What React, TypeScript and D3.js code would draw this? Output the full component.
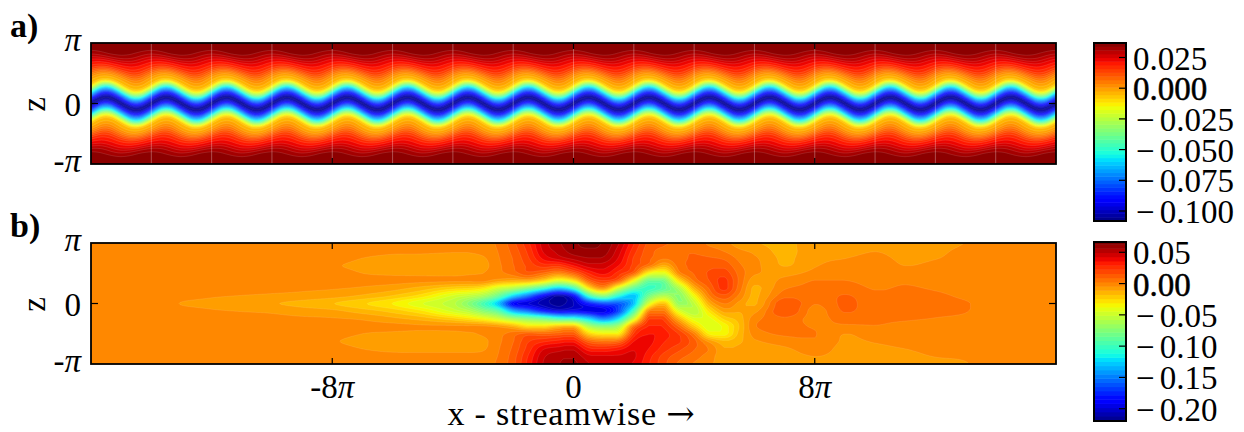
import { useMemo } from 'react';
import * as d3 from 'd3';

const PI = Math.PI;

// panel a: one streamwise period (x 1e-3)
const aProfile = [-106, -95, -75, -53, -26, -8, -3, 1.5, 8, 15, 20, 24, 29, 33, 35, 36, 36.5, 37, 37];
const aCrest = [0, 0.15, 0.27, 0.31, 0.27, 0.15, 0, -0.15, -0.27, -0.31, -0.27, -0.15];
const aCrestFar = [0.13, 0.11, 0.065, 0, -0.065, -0.11, -0.13, -0.11, -0.065, 0, 0.065, 0.11];
const aSeams = d3.range(-14, 15, 2);
const aRange = [-108, 37];

// panel b: stations along x in units of pi, rows z = pi..-pi in steps of pi/8 (x 1e-3)
const bStations = [
  -16, -15, -14, -13, -12, -11, -10, -9, -8, -7, -6, -5,
  -4, -3.5, -3, -2.5, -2, -1.5, -1, -0.5, 0, 0.5, 1, 1.5, 2, 2.5, 3, 3.5, 4, 4.5, 5, 5.5, 6,
  7, 8, 9, 10, 11, 12, 13, 14, 15, 16,
];
const bColumns = [
  [-1, -1, -1, -1, -1, -1, -1, -1, -1, -1, -1, -1, -1, -1, -1, -1, -1],
  [-1, -1, -1, -1, -1, -1, -1, -1, -1, -1, -1, -1, -1, -1, -1, -1, -1],
  [-1, -1, -1, -1, -1, -1, -1, -1, -1, -1, -1, -1, -1, -1, -1, -1, -1],
  [-1, -1, -1, -1, -1, -1, -1, -2, -4.2, -2, -1, -1, -1, -1, -1, -1, -1],
  [-1, -1, -1, -1, -1, -1, -1.5, -3.4, -5.5, -3.4, -1.5, -1, -1, -1, -1, -1, -1],
  [-1, -1, -1, -1, -1, -1, -2, -4.2, -7.5, -4.2, -2, -1, -1, -1, -1, -1, -1],
  [-1, -1, -1, -1, -1, -1, -2.5, -5, -10, -5, -2.5, -1, -1, -1, -1, -1, -1],
  [-1, -1, -1, -2, -1, -1, -3, -6, -13, -7, -3, -1, -1, -2, -1, -1, -1],
  [-1, -1, -2, -3.5, -2, -1, -3.5, -8, -17, -9, -3.5, -1, -2, -3.5, -2, -1, -1],
  [-1, -1.5, -4, -5, -4, -2, -5, -12, -23, -14, -5, -2, -4, -5.5, -4, -1.5, -1],
  [-1, -2.5, -5.5, -6.5, -5, -2, -8, -18, -31, -20, -9, -2, -5, -6.5, -5.5, -2, -1],
  [-1, -2.5, -6, -7.5, -5.5, -2.5, -14, -28, -44, -30, -14, -3, -6, -7.5, -6, -2, -1],
  [-1, -3, -7, -8, -6, -3, -22, -45, -55, -46, -22, -3, -6, -8, -6, -2, -1],
  [-1, -3, -7, -8, -5, -3, -24, -52, -72, -55, -28, -3, -5, -8, -6, -2, -1],
  [0, -1, -5, -6.5, -4, -2, -30, -62, -95, -72, -36, -3, -3, -6, -5, -1, 0],
  [4, 3, 2, 1, 0, -8, -48, -85, -128, -90, -48, -6, 0, 1, 2, 3, 4],
  [14, 12, 10, 9, 6, -12, -60, -125, -185, -135, -65, -14, 6, 9, 11, 13, 14],
  [28, 25, 22, 18, 14, -12, -80, -155, -198, -155, -75, -28, 12, 22, 26, 30, 32],
  [46, 44, 38, 26, 8, -25, -105, -190, -208, -180, -85, -28, 10, 28, 42, 48, 50],
  [55, 52, 46, 25, 0, -45, -130, -212, -214, -195, -100, -18, 12, 32, 46, 54, 56],
  [62, 60, 52, 36, 12, -30, -105, -188, -205, -190, -105, -15, 14, 34, 48, 55, 58],
  [64, 62, 56, 46, 30, 10, -32, -105, -180, -195, -125, -60, -22, 12, 32, 45, 50],
  [62, 60, 55, 46, 38, 22, -5, -75, -165, -195, -150, -75, -32, 6, 30, 44, 48],
  [50, 46, 42, 36, 26, 10, -50, -110, -160, -165, -120, -62, -30, 10, 34, 44, 46],
  [30, 26, 22, 20, 10, -38, -90, -130, -130, -95, -48, 6, 24, 36, 42, 44, 42],
  [14, 12, 11, 5, -35, -85, -100, -80, -45, 0, 22, 30, 36, 38, 36, 32, 30],
  [10, 8, 4, -12, -42, -80, -88, -58, -18, 4, 20, 28, 32, 30, 26, 20, 18],
  [9, 9, 8, 6, -1, -28, -60, -72, -68, -42, -14, 8, 22, 24, 18, 12, 8],
  [8, 9, 10, 11, 10, 4, -14, -36, -52, -57, -42, -22, 2, 12, 10, 6, 2],
  [1, 6, 10, 14, 17, 16, 10, 2, -12, -28, -40, -44, -32, -6, 2, -1, -3],
  [-2, 2, 8, 14, 20, 25, 25, 14, 3, -8, -22, -35, -34, -16, -10, -8, -6],
  [-7, -3, 1, 4, 7, 8, 6, 1, -6, -10, -14, -17, -15, -12, -9, -8, -7],
  [-10, -6, -3, -2, -3, -8, -12, -12, -12, -6, 0, 2, -1, -5, -7, -7, -6],
  [-13, -13, -12, -11, -6, -2, 2, 7, 16, 16, 8, 5, 4, -1, -5, -7, -11],
  [-6, -6, -5.5, -4.5, -2, 3, 4, 4, 3, 0, 0, 2, 3, 2, -1, -4, -6],
  [-6, -5.5, -4.1, -2.5, -0.5, 2.9, 6, 10, 11, 10, 6, 1.5, -3.9, -5, -6, -6, -6],
  [-5.5, -4.2, -3, -2, -1, 0.5, 2.2, 4.5, 5.5, 5, 3.6, 2.5, 0, -3.5, -5, -6, -6],
  [-6, -5.5, -4.8, -4, -2.5, 1.5, 3.5, 5, 6, 5.5, 3.3, 1.5, -0.5, -2.5, -4, -5, -5.5],
  [-6, -5, -4.2, -3, -1.5, 0, 2, 4, 5, 4, 2.5, 0.5, -1, -2, -3, -3.9, -5],
  [-3.9, -3, -2.5, -2, -1.5, -1, 0, 1.5, 3.3, 3, 1.5, 0, -1, -2, -3, -3.5, -4.2],
  [-2, -2, -2, -1, -1, -1, -1, -1, -1, -1, -1, -1, -1, -1, -2, -2, -2],
  [-1, -1, -1, -1, -1, -1, -1, -1, -1, -1, -1, -1, -1, -1, -1, -1, -1],
  [-1, -1, -1, -1, -1, -1, -1, -1, -1, -1, -1, -1, -1, -1, -1, -1, -1],
];
const bRange = [-220, 66.5];

const aLevels = d3.range(0, 49).map((i) => aRange[0] + (i * (aRange[1] - aRange[0])) / 48);
const bLevels = d3.range(-218.4, 70, 6.7);

const aBarTicks = [
  { value: 25, label: '0.025' },
  { value: 0, label: '0.000' },
  { value: -25, label: '0.025' },
  { value: -50, label: '0.050' },
  { value: -75, label: '0.075' },
  { value: -100, label: '0.100' },
];
const bBarTicks = [
  { value: 50, label: '0.05' },
  { value: 0, label: '0.00' },
  { value: -50, label: '0.05' },
  { value: -100, label: '0.10' },
  { value: -150, label: '0.15' },
  { value: -200, label: '0.20' },
];

const xTicks = [
  { value: -8, label: '-8' },
  { value: 0, label: '0' },
  { value: 8, label: '8' },
];

const FONT = '"Liberation Serif", serif';
const PLOT_LEFT = 91;
const PLOT_RIGHT = 1056;
const W = PLOT_RIGHT - PLOT_LEFT;
const H = 121;

const x = d3.scaleLinear().domain([-16, 16]).range([PLOT_LEFT, PLOT_RIGHT]);

const jetR = d3.scaleLinear().domain([0, 0.35, 0.66, 0.89, 1]).range([0, 0, 1, 1, 0.5]);
const jetG = d3.scaleLinear().domain([0, 0.125, 0.375, 0.64, 0.91, 1]).range([0, 0, 1, 1, 0, 0]);
const jetB = d3.scaleLinear().domain([0, 0.11, 0.34, 0.65, 1]).range([0.5, 1, 1, 0, 0]);
const jet = (t) => d3.rgb(jetR(t) * 255, jetG(t) * 255, jetB(t) * 255).formatRgb();

function catmull(p0, p1, p2, p3, t) {
  return 0.5 * (2 * p1 + (p2 - p0) * t + (2 * p0 - 5 * p1 + 4 * p2 - p3) * t * t + (3 * p1 - p0 - 3 * p2 + p3) * t * t * t);
}

function cyclic(list, u) {
  const n = list.length;
  const i = Math.floor(u);
  const at = (j) => list[((j % n) + n) % n];
  return catmull(at(i - 1), at(i), at(i + 1), at(i + 2), u - i);
}

// no overshoot past the two neighbouring table values
function clamped(list, u) {
  const n = list.length;
  const i = Math.min(Math.floor(u), n - 2);
  const at = (j) => list[Math.max(0, Math.min(n - 1, j))];
  const value = catmull(at(i - 1), at(i), at(i + 1), at(i + 2), u - i);
  const lo = Math.min(at(i), at(i + 1));
  const hi = Math.max(at(i), at(i + 1));
  return Math.max(lo, Math.min(hi, value));
}

// panel a raster: the period table repeated along x
function buildFieldA() {
  const values = new Float64Array(W * H);
  const depth = d3.scaleLinear().domain([0, PI]).range([0, 16]);
  const farWeight = d3.scaleLinear().domain([1.0, 2.6]).range([0, 1]).clamp(true);
  for (let j = 0; j < H; j += 1) {
    const z = PI - (2 * PI * (j + 0.5)) / H;
    const w = farWeight(Math.abs(z));
    for (let i = 0; i < W; i += 1) {
      const phase = (((i + 0.5) / W) * 16 * aCrest.length) % aCrest.length;
      const shift = cyclic(aCrest, phase) * (1 - w) + cyclic(aCrestFar, phase) * w;
      const d = Math.abs(z - shift);
      values[j * W + i] = clamped(aProfile, Math.min(depth(d), aProfile.length - 1));
    }
  }
  return values;
}

// panel b raster: the table drawn smooth, stations are not evenly spaced
function buildFieldB() {
  const values = new Float64Array(W * H);
  const nr = bColumns[0].length;
  const stationIndex = d3.scaleLinear().domain(bStations).range(bStations.map((_, i) => i));
  for (let j = 0; j < H; j += 1) {
    const v = ((j + 0.5) / H) * (nr - 1);
    const column = bColumns.map((col) => clamped(col, v));
    for (let i = 0; i < W; i += 1) {
      values[j * W + i] = clamped(column, stationIndex(x.invert(PLOT_LEFT + i + 0.5)));
    }
  }
  return values;
}

function buildBands(values, levels, range, top) {
  const step = levels[1] - levels[0];
  const contours = d3.contours().size([W, H]).smooth(true).thresholds(levels.slice(0, -1));
  const path = d3.geoPath(
    d3.geoTransform({
      point(px, py) {
        this.stream.point(PLOT_LEFT + px, top + py);
      },
    })
  );
  return contours(values).map((shape, index) => ({
    d: path(shape),
    fill: jet((levels[index] + step / 2 - range[0]) / (range[1] - range[0])),
  }));
}

function FieldPanel({ bands, top, id, seamOpacity }) {
  return (
    <g>
      <clipPath id={id}>
        <rect x={PLOT_LEFT} y={top} width={W} height={H} />
      </clipPath>
      <g clipPath={`url(#${id})`}>
        {bands.map((band, i) => (
          <path key={i} d={band.d} fill={band.fill} stroke="#fff" strokeOpacity={seamOpacity} strokeWidth={0.6} />
        ))}
      </g>
    </g>
  );
}

function PanelAxes({ top }) {
  const mid = top + H / 2;
  return (
    <g stroke="#000" strokeWidth={1.2}>
      {xTicks.map((tick) => (
        <g key={tick.value}>
          <line x1={x(tick.value)} x2={x(tick.value)} y1={top} y2={top + 6} />
          <line x1={x(tick.value)} x2={x(tick.value)} y1={top + H} y2={top + H - 6} />
        </g>
      ))}
      <line x1={PLOT_LEFT} x2={PLOT_LEFT + 7} y1={mid} y2={mid} />
      <line x1={PLOT_RIGHT} x2={PLOT_RIGHT - 7} y1={mid} y2={mid} />
      <rect x={PLOT_LEFT} y={top} width={W} height={H} fill="none" strokeWidth={1.8} />
    </g>
  );
}

function ZLabels({ top }) {
  const mid = top + H / 2;
  return (
    <g fontFamily={FONT} fontSize={33} fill="#000">
      <text x={81} y={top + 8} textAnchor="end" fontStyle="italic">π</text>
      <text x={81} y={mid + 12} textAnchor="end">0</text>
      <text x={81} y={top + H + 8} textAnchor="end">-<tspan fontStyle="italic">π</tspan></text>
      <text transform={`translate(45,${mid + 1}) rotate(-90)`} textAnchor="middle">z</text>
    </g>
  );
}

function Colorbar({ levels, range, ticks, top, bottom, scale, id }) {
  const left = 1094;
  const right = 1126;
  const step = levels[1] - levels[0];
  return (
    <g>
      <clipPath id={id}>
        <rect x={left} y={top} width={right - left} height={bottom - top} />
      </clipPath>
      <g clipPath={`url(#${id})`}>
        {levels.slice(0, -1).map((level) => (
          <rect
            key={level}
            x={left}
            width={right - left}
            y={scale(level + step)}
            height={scale(level) - scale(level + step) + 0.5}
            fill={jet((level + step / 2 - range[0]) / (range[1] - range[0]))}
          />
        ))}
      </g>
      {ticks.map((tick) => (
        <g key={tick.value}>
          <line x1={right - 7} x2={right} y1={scale(tick.value)} y2={scale(tick.value)} stroke="#000" strokeWidth={1.2} />
          <text
            x={tick.value < 0 ? 1136 : 1133}
            y={scale(tick.value) + 12}
            fontFamily={FONT}
            fontSize={33}
            stroke={tick.value === 0 ? '#000' : 'none'}
            strokeWidth={0.5}
          >
            {tick.value < 0 && <tspan>{'\u2212'}</tspan>}
            <tspan dx={tick.value < 0 ? 5 : 0}>{tick.label}</tspan>
          </text>
        </g>
      ))}
      <rect x={left} y={top} width={right - left} height={bottom - top} fill="none" stroke="#000" strokeWidth={2} />
    </g>
  );
}

export default function App() {
  const bandsA = useMemo(() => buildBands(buildFieldA(), aLevels, aRange, 43), []);
  const bandsB = useMemo(() => buildBands(buildFieldB(), bLevels, bRange, 243), []);

  const barA = d3.scaleLinear().domain([-100, 25]).range([211, 57.5]);
  const barB = d3.scaleLinear().domain([-200, 50]).range([408.7, 252.3]);

  return (
    <svg width={1244} height={432} style={{ position: 'absolute', left: 0, top: 0, display: 'block', background: '#fff' }}>
      <rect x={PLOT_LEFT} y={43} width={W} height={H} fill={jet(0)} />
      <FieldPanel bands={bandsA} top={43} id="clip-a" seamOpacity={0.2} />
      {aSeams.map((seam) => (
        <line key={seam} x1={x(seam)} x2={x(seam)} y1={43} y2={43 + H} stroke="#fff" strokeOpacity={0.3} strokeWidth={1} />
      ))}
      <PanelAxes top={43} />

      <rect x={PLOT_LEFT} y={243} width={W} height={H} fill={jet(0)} />
      <FieldPanel bands={bandsB} top={243} id="clip-b" seamOpacity={0.16} />
      <PanelAxes top={243} />

      <ZLabels top={43} />
      <ZLabels top={243} />

      <g fontFamily={FONT} fontSize={33} textAnchor="middle">
        {xTicks.map((tick) => (
          <text key={tick.value} x={x(tick.value)} y={398}>
            {tick.label}
            {tick.value !== 0 && <tspan fontStyle="italic">π</tspan>}
          </text>
        ))}
        <text x={571.5} y={425} fontSize={34} letterSpacing={0.8}>
          x - streamwise <tspan fontFamily='"DejaVu Serif", serif'>→</tspan>
        </text>
      </g>

      <g fontFamily={FONT} fontSize={34} fontWeight="bold">
        <text x={10} y={37}>a)</text>
        <text x={10} y={237}>b)</text>
      </g>

      <Colorbar levels={aLevels} range={aRange} ticks={aBarTicks} top={43} bottom={221} scale={barA} id="bar-a" />
      <Colorbar levels={bLevels} range={bRange} ticks={bBarTicks} top={242} bottom={421} scale={barB} id="bar-b" />
    </svg>
  );
}
